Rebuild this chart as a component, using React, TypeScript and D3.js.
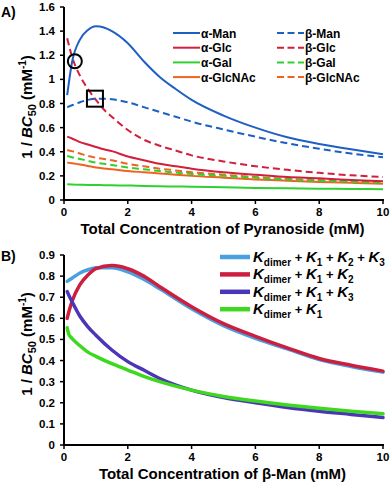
import React from 'react'
import * as d3 from 'd3'

// panel A: 1/BC50 vs total pyranoside concentration
const xA = [0.1, 0.25, 0.5, 0.75, 1, 1.25, 1.5, 2, 2.5, 3, 3.5, 4, 5, 6, 7, 8, 9, 10]
const alphaMan = [0.87, 1.14, 1.33, 1.41, 1.44, 1.43, 1.4, 1.3, 1.15, 1.02, 0.92, 0.83, 0.7, 0.6, 0.52, 0.465, 0.42, 0.38]
const betaMan = [0.77, 0.785, 0.81, 0.83, 0.84, 0.84, 0.835, 0.81, 0.77, 0.73, 0.69, 0.65, 0.585, 0.525, 0.47, 0.425, 0.385, 0.355]
const alphaGlc = [0.525, 0.51, 0.48, 0.46, 0.44, 0.42, 0.405, 0.36, 0.33, 0.3, 0.28, 0.26, 0.23, 0.21, 0.19, 0.18, 0.165, 0.155]
const betaGlc = [1.34, 1.19, 1.03, 0.92, 0.83, 0.75, 0.69, 0.58, 0.5, 0.45, 0.41, 0.37, 0.32, 0.28, 0.25, 0.225, 0.205, 0.19]
const alphaGal = [0.13, 0.128, 0.126, 0.125, 0.124, 0.123, 0.122, 0.12, 0.117, 0.114, 0.112, 0.11, 0.105, 0.1, 0.097, 0.094, 0.092, 0.09]
const betaGal = [0.365, 0.355, 0.34, 0.325, 0.31, 0.3, 0.29, 0.27, 0.255, 0.24, 0.228, 0.215, 0.2, 0.185, 0.17, 0.16, 0.15, 0.145]
const alphaGlcNAc = [0.31, 0.305, 0.295, 0.282, 0.27, 0.262, 0.255, 0.24, 0.23, 0.22, 0.21, 0.2, 0.185, 0.17, 0.16, 0.15, 0.142, 0.135]
const betaGlcNAc = [0.415, 0.405, 0.385, 0.365, 0.35, 0.34, 0.33, 0.3, 0.28, 0.26, 0.245, 0.23, 0.21, 0.19, 0.175, 0.165, 0.155, 0.145]

// panel B: model variants for beta-Man
const xB = [0.1, 0.15, 0.25, 0.5, 0.75, 1, 1.5, 2, 2.5, 3, 4, 5, 6, 7, 8, 9, 10]
const kAll = [0.775, 0.78, 0.79, 0.815, 0.83, 0.84, 0.84, 0.82, 0.785, 0.74, 0.645, 0.565, 0.505, 0.455, 0.405, 0.372, 0.345]
const kK1K2 = [0.6, 0.63, 0.68, 0.76, 0.805, 0.835, 0.85, 0.835, 0.8, 0.75, 0.655, 0.575, 0.515, 0.46, 0.41, 0.378, 0.35]
const kK1K3 = [0.727, 0.71, 0.68, 0.61, 0.56, 0.52, 0.45, 0.395, 0.355, 0.315, 0.26, 0.225, 0.2, 0.178, 0.16, 0.145, 0.13]
const kK1 = [0.555, 0.525, 0.505, 0.47, 0.44, 0.42, 0.385, 0.355, 0.325, 0.3, 0.26, 0.23, 0.208, 0.19, 0.174, 0.16, 0.148]

const ticksX = [0, 2, 4, 6, 8, 10]
const ticksA = [0, 0.2, 0.4, 0.6, 0.8, 1, 1.2, 1.4, 1.6]
const ticksB = [0, 0.1, 0.2, 0.3, 0.4, 0.5, 0.6, 0.7, 0.8, 0.9]

const BLUE = '#1f5fc4'
const RED = '#d11f3c'
const GREEN = '#2fd02f'
const ORANGE = '#f0621e'

const seriesA = [
  { name: 'α-Man', y: alphaMan, color: BLUE, dash: false },
  { name: 'β-Man', y: betaMan, color: BLUE, dash: true },
  { name: 'α-Glc', y: alphaGlc, color: RED, dash: false },
  { name: 'β-Glc', y: betaGlc, color: RED, dash: true },
  { name: 'α-Gal', y: alphaGal, color: GREEN, dash: false },
  { name: 'β-Gal', y: betaGal, color: GREEN, dash: true },
  { name: 'α-GlcNAc', y: alphaGlcNAc, color: ORANGE, dash: false },
  { name: 'β-GlcNAc', y: betaGlcNAc, color: ORANGE, dash: true }
]

const seriesB = [
  { subs: ['1', '2', '3'], y: kAll, color: '#4a9fe0' },
  { subs: ['1', '2'], y: kK1K2, color: '#cc1f3f' },
  { subs: ['1', '3'], y: kK1K3, color: '#4b36b8' },
  { subs: ['1'], y: kK1, color: '#3ed81e' }
]

const FONT = 'Liberation Sans, Arial, sans-serif'

const YTitle = ({ x, y }) => (
  <text
    transform={`translate(${x},${y}) rotate(-90)`}
    textAnchor="middle"
    fontSize={15}
    fontWeight="bold"
    fontFamily={FONT}
  >
    1 / <tspan fontStyle="italic">BC</tspan>
    <tspan fontSize={11} dy={4}>50</tspan>
    <tspan dy={-4}> (mM</tspan>
    <tspan fontSize={10} dy={-6}>-1</tspan>
    <tspan dy={6}>)</tspan>
  </text>
)

const Axes = ({ x, y, ticksY, fmt, top, bottom, label }) => {
  return (
    <g fontFamily={FONT} fontWeight="bold">
      <line x1={x(0)} x2={x(0)} y1={top} y2={bottom + 1} stroke="#000" strokeWidth={2} />
      <line x1={x(0) - 1} x2={x(10) + 1} y1={bottom} y2={bottom} stroke="#000" strokeWidth={2} />
      {ticksY.map(t => (
        <g key={t}>
          <line x1={x(0) - 4} x2={x(0)} y1={y(t)} y2={y(t)} stroke="#000" strokeWidth={1.5} />
          <text x={x(0) - 9} y={y(t) + 4} textAnchor="end" fontSize={11.5}>
            {fmt(t)}
          </text>
        </g>
      ))}
      {ticksX.map(t => (
        <g key={t}>
          <line x1={x(t)} x2={x(t)} y1={bottom} y2={bottom + 4} stroke="#000" strokeWidth={1.5} />
          <text x={x(t)} y={bottom + 16} textAnchor="middle" fontSize={11.5}>
            {t}
          </text>
        </g>
      ))}
      <text x={(x(0) + x(10)) / 2 - 1} y={bottom + 34} textAnchor="middle" fontSize={15}>
        {label}
      </text>
    </g>
  )
}

export default function App() {
  const x = d3.scaleLinear().domain([0, 10]).range([64, 383])
  const yA = d3.scaleLinear().domain([0, 1.6]).range([200, 7])
  const yB = d3.scaleLinear().domain([0, 0.9]).range([445, 255])

  const lineA = d3
    .line<number>()
    .x((d, i) => x(xA[i]))
    .y(d => yA(d))
    .curve(d3.curveMonotoneX)
  const lineB = d3
    .line<number>()
    .x((d, i) => x(xB[i]))
    .y(d => yB(d))
    .curve(d3.curveMonotoneX)

  const fmtA = t => (t === 0 || t === 1 ? String(t) : d3.format('.1f')(t))
  const fmtB = t => (t === 0 ? '0' : d3.format('.1f')(t))

  return (
    <svg width={391} height={486} style={{ position: 'absolute', left: 0, top: 0, background: '#fff' }}>
      <g fontFamily={FONT}>
        <text x={1} y={17} fontSize={14} fontWeight="bold">A)</text>
        <text x={1} y={261} fontSize={14} fontWeight="bold">B)</text>
      </g>

      {/* panel A */}
      <g fill="none">
        {seriesA.slice().reverse().map(s => (
          <path
            key={s.name}
            d={lineA(s.y)}
            stroke={s.color}
            strokeWidth={2}
            strokeDasharray={s.dash ? '7,4' : null}
          />
        ))}
      </g>
      <circle cx={x(0.34)} cy={yA(1.15)} r={7} fill="none" stroke="#000" strokeWidth={2} />
      <rect x={x(0.97) - 8} y={yA(0.84) - 8} width={16} height={16} fill="none" stroke="#000" strokeWidth={2} />
      <Axes x={x} y={yA} ticksY={ticksA} fmt={fmtA} top={7} bottom={200} label="Total Concentration of Pyranoside (mM)" />
      <g fontFamily={FONT} fontWeight="bold" fontSize={12}>
        {seriesA.map((s, i) => {
          const col = i % 2
          const row = Math.floor(i / 2)
          const lx = col === 0 ? 173 : 277
          const ly = 33 + row * 14.7
          return (
            <g key={s.name}>
              <line
                x1={lx}
                x2={lx + 27}
                y1={ly}
                y2={ly}
                stroke={s.color}
                strokeWidth={2}
                strokeDasharray={s.dash ? '7,3.5' : null}
              />
              <text x={lx + 28} y={ly + 4.5}>{s.name}</text>
            </g>
          )
        })}
      </g>

      {/* panel B */}
      <g fill="none">
        {seriesB.map((s, i) => (
          <path key={i} d={lineB(s.y)} stroke={s.color} strokeWidth={3.5} strokeLinecap="round" />
        ))}
      </g>
      <YTitle x={32} y={107} />
      <YTitle x={32} y={344} />
      <Axes x={x} y={yB} ticksY={ticksB} fmt={fmtB} top={255} bottom={445} label="Total Concentration of β-Man (mM)" />
      <g fontFamily={FONT} fontWeight="bold" fontSize={13}>
        {seriesB.map((s, i) => {
          const ly = 257 + i * 17.4
          return (
            <g key={i}>
              <line x1={220} x2={250} y1={ly} y2={ly} stroke={s.color} strokeWidth={4.5} />
              <text x={253} y={ly + 5}>
                <tspan fontStyle="italic" fontSize={15}>K</tspan>
                <tspan fontSize={10} dy={4}>dimer</tspan>
                {s.subs.map(k => (
                  <React.Fragment key={k}>
                    <tspan dy={-4}> + </tspan>
                    <tspan fontStyle="italic" fontSize={15}>K</tspan>
                    <tspan fontSize={10} dy={4}>{k}</tspan>
                  </React.Fragment>
                ))}
              </text>
            </g>
          )
        })}
      </g>
    </svg>
  )
}
